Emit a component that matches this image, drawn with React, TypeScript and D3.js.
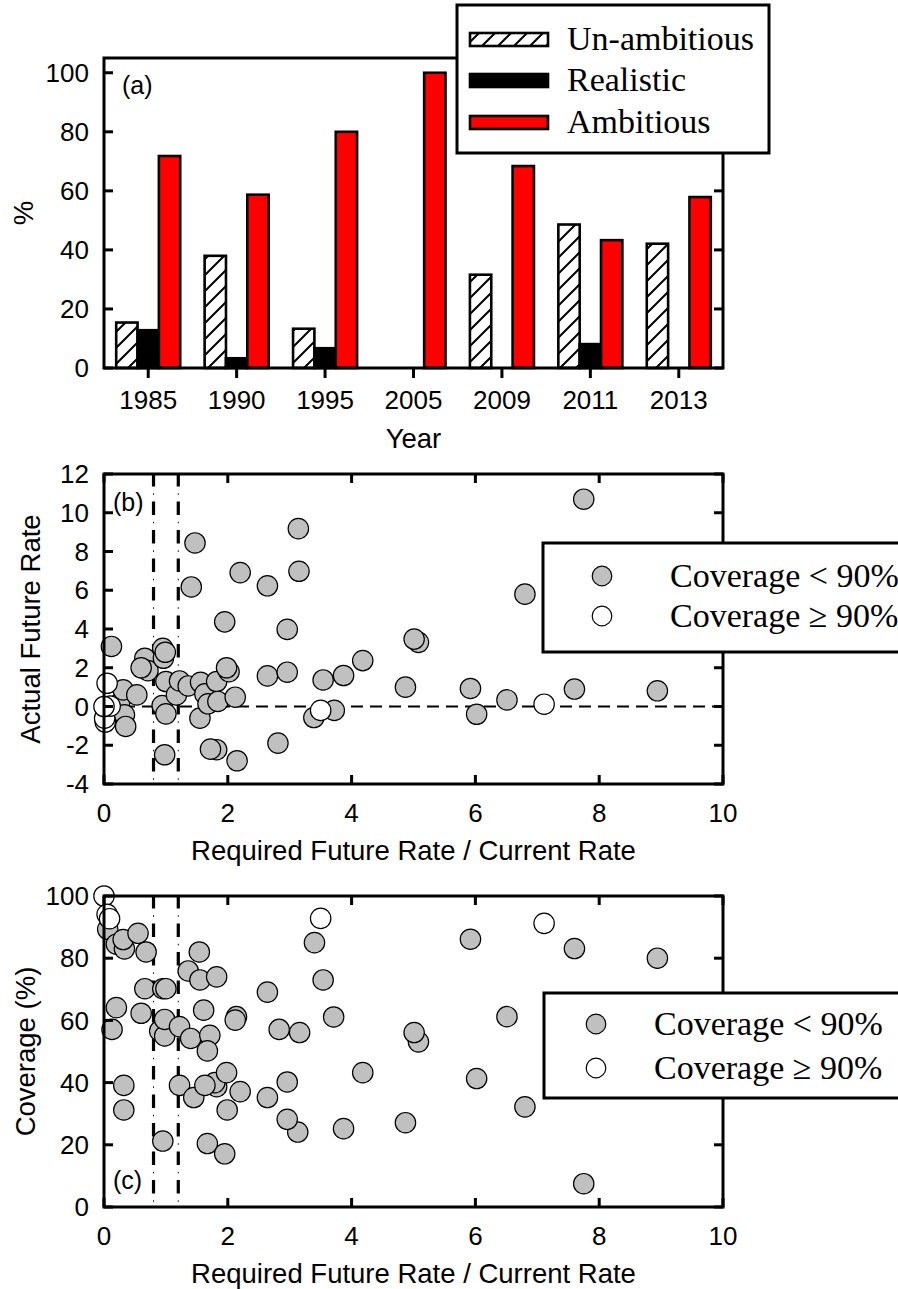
import * as d3 from 'd3';

// panel (a): share of targets per survey year (%)
const years = ['1985', '1990', '1995', '2005', '2009', '2011', '2013'];
const seriesNames = ['Un-ambitious', 'Realistic', 'Ambitious'];
const unAmbitious = [15.4, 38, 13.3, 0, 31.6, 48.6, 42.1];
const realistic = [12.8, 3.3, 6.7, 0, 0, 8.1, 0];
const ambitious = [71.8, 58.7, 80, 100, 68.4, 43.3, 57.9];

// panel (b): required/current rate vs actual future rate
const rateLow: [number, number][] = [
  [0.12, 3.1], [0.25, 0.15], [0.31, 0.86], [0.33, -0.43], [0.35, -1.03], [0.53, 0.6],
  [0.66, 2.49], [0.71, 1.85], [0.6, 2.0], [0.95, 3.0], [0.96, 2.49], [0.99, 2.8],
  [1.0, 1.29], [0.94, 0.05], [1.0, -0.38], [0.98, -2.49], [1.17, 0.6], [1.22, 1.32],
  [1.36, 1.06], [1.47, 8.44], [1.41, 6.17], [1.56, 1.25], [1.55, -0.6], [1.63, 0.65],
  [1.68, 0.14], [1.82, 1.29], [1.84, 0.26], [1.82, -2.23], [1.72, -2.2], [1.95, 4.37],
  [2.02, 1.8], [1.98, 2.0], [2.12, 0.48], [2.15, -2.8], [2.2, 6.91], [2.64, 6.23],
  [2.64, 1.58], [2.81, -1.89], [2.96, 3.98], [2.96, 1.77], [3.14, 9.18], [3.15, 6.98],
  [3.39, -0.57], [3.72, -0.2], [3.54, 1.37], [3.87, 1.6], [4.18, 2.37], [4.87, 1.0],
  [5.08, 3.31], [5.01, 3.48], [5.92, 0.93], [6.02, -0.4], [6.51, 0.34], [6.8, 5.8],
  [7.6, 0.9], [7.75, 10.7], [8.94, 0.81],
];
const rateHigh: [number, number][] = [
  [0.02, -0.8], [0.01, -0.6], [0.1, 0.02], [0.0, 0.0], [0.05, 1.2], [3.5, -0.2], [7.11, 0.12],
];

// panel (c): required/current rate vs coverage (%)
const coveragePoints: [number, number][] = [
  [0.06, 89.3], [0.2, 84.5], [0.33, 83], [0.31, 86], [0.55, 88], [0.68, 82],
  [0.2, 64.1], [0.13, 57.1], [0.32, 39.1], [0.32, 31.2], [0.6, 62.3], [0.66, 70.2],
  [0.95, 70.2], [1.0, 70.2], [0.9, 56.6], [0.98, 55], [0.98, 60.3], [1.22, 58],
  [0.95, 21.2], [1.22, 39.1], [1.45, 35.2], [1.36, 75.9], [1.54, 82], [1.55, 73],
  [1.82, 74], [1.4, 54.2], [1.61, 63.3], [1.71, 55.2], [1.67, 50.2], [1.82, 38.7],
  [1.79, 40], [1.63, 39.1], [1.98, 43.2], [1.99, 31.2], [2.2, 37.1], [1.67, 20.4],
  [1.95, 17.1], [2.14, 61.2], [2.12, 60.1], [2.64, 69.1], [2.64, 35.2], [2.83, 57.1],
  [3.16, 56.1], [2.96, 40.2], [3.13, 24.1], [2.96, 28.2], [3.4, 85], [3.54, 73],
  [3.71, 61.1], [3.87, 25.2], [4.18, 43.2], [4.87, 27.1], [5.08, 53.1], [5.01, 56.1],
  [5.92, 86.1], [6.02, 41.3], [6.51, 61.2], [6.8, 32.2], [7.6, 83.1], [8.94, 80],
  [7.75, 7.5],
  [0.0, 100], [0.05, 94.1], [0.09, 92.7], [3.5, 92.8], [7.11, 91.2],
];
const ratioBand = [0.8, 1.2];
const coverageCut = 90;

const W = 898;
const H = 1289;
const LEFT = 104;
const RIGHT = 723;
const SANS = '"Liberation Sans", Arial, Helvetica, sans-serif';
const SERIF = '"Liberation Serif", "Times New Roman", serif';
const GREY = '#c0c0c0';
const RED = '#ff0000';
const AXW = 3;
const TICK = 9;
const TICK_FONT = 26;
const TITLE_FONT = 27.5;

const xRatio = d3.scaleLinear().domain([0, 10]).range([LEFT, RIGHT]);

function Dot({ cx, cy, open }: { cx: number; cy: number; open: boolean }) {
  return <circle cx={cx} cy={cy} r={10.2} fill={open ? '#fff' : GREY} stroke="#000" strokeWidth={1.2} />;
}

function YTitle({ x, y, text }: { x: number; y: number; text: string }) {
  return (
    <text transform={`translate(${x},${y}) rotate(-90)`} dy="0.35em" textAnchor="middle"
      fontFamily={SANS} fontSize={TITLE_FONT}>{text}</text>
  );
}

function BarPanel() {
  const top = 58;
  const bottom = 368;
  const x0 = d3.scaleBand<string>().domain(years).range([LEFT, RIGHT]).paddingInner(0.276).paddingOuter(0.138);
  const x1 = d3.scaleBand<string>().domain(seriesNames).range([0, x0.bandwidth()]);
  const y = d3.scaleLinear().domain([0, 105]).range([bottom, top]);
  const values = [unAmbitious, realistic, ambitious];
  const fills = ['url(#hatch)', '#000', RED];

  const bars = years.flatMap((yr, i) =>
    seriesNames.map((s, k) => ({ yr, s, v: values[k][i], fill: fills[k] }))
  ).filter((d) => d.v > 0);

  const legendRows = [50, 91, 133];

  return (
    <g>
      {bars.map((d) => (
        <rect key={d.yr + d.s} x={(x0(d.yr) ?? 0) + (x1(d.s) ?? 0)} y={y(d.v)}
          width={x1.bandwidth()} height={y(0) - y(d.v)} fill={d.fill} stroke="#000" strokeWidth={2.6} />
      ))}
      <rect x={LEFT} y={top} width={RIGHT - LEFT} height={bottom - top} fill="none" stroke="#000" strokeWidth={AXW} />
      {y.ticks(5).map((t) => (
        <g key={t}>
          <line x1={LEFT} x2={LEFT + TICK} y1={y(t)} y2={y(t)} stroke="#000" strokeWidth={AXW} />
          <line x1={RIGHT} x2={RIGHT - TICK} y1={y(t)} y2={y(t)} stroke="#000" strokeWidth={AXW} />
          <text x={LEFT - 15} y={y(t)} dy="0.35em" textAnchor="end" fontFamily={SANS} fontSize={TICK_FONT}>{t}</text>
        </g>
      ))}
      {years.map((yr) => {
        const cx = (x0(yr) ?? 0) + x0.bandwidth() / 2;
        return (
          <g key={yr}>
            <line x1={cx} x2={cx} y1={bottom} y2={bottom + 10} stroke="#000" strokeWidth={AXW} />
            <text x={cx} y={409} textAnchor="middle" fontFamily={SANS} fontSize={TICK_FONT}>{yr}</text>
          </g>
        );
      })}
      <text x={(LEFT + RIGHT) / 2} y={448} textAnchor="middle" fontFamily={SANS} fontSize={TITLE_FONT}>Year</text>
      <YTitle x={23} y={(top + bottom) / 2} text="%" />
      <text x={122} y={94} fontFamily={SANS} fontSize={25}>(a)</text>

      <rect x={457} y={5} width={312} height={148} fill="#fff" stroke="#000" strokeWidth={AXW} />
      {seriesNames.map((s, k) => (
        <g key={s}>
          <rect x={470} y={legendRows[k] - 17} width={78} height={13} fill={fills[k]} stroke="#000" strokeWidth={2.6} />
          <text x={567} y={legendRows[k]} fontFamily={SERIF} fontSize={34}>{s}</text>
        </g>
      ))}
    </g>
  );
}

type RatioProps = {
  top: number;
  bottom: number;
  domain: [number, number];
  tickCount: number;
  points: [number, number, boolean][];
  title: string;
  titleX: number;
  tag: string;
  tagY: number;
  xTitleY: number;
  zeroLine: boolean;
  legend: { x: number; y: number; h: number; markX: number; textX: number; rows: number[] };
};

function RatioPanel(p: RatioProps) {
  const y = d3.scaleLinear().domain(p.domain).range([p.bottom, p.top]);
  const xt = xRatio.ticks(5);
  const yt = y.ticks(p.tickCount);
  const ordered = [...p.points.filter((d) => !d[2]), ...p.points.filter((d) => d[2])];
  return (
    <g>
      {ratioBand.map((v) => (
        <g key={v}>
          {/* dash-dot guide: thick dashes with a thin dot in each gap */}
          <line x1={xRatio(v)} x2={xRatio(v)} y1={p.top} y2={p.bottom} stroke="#000" strokeWidth={3.2}
            strokeDasharray="13.5,15" strokeDashoffset={1} />
          <line x1={xRatio(v)} x2={xRatio(v)} y1={p.top} y2={p.bottom} stroke="#000" strokeWidth={1}
            strokeDasharray="1.5,27" strokeDashoffset={-19.3} />
        </g>
      ))}
      {p.zeroLine && (
        <line x1={LEFT} x2={RIGHT} y1={y(0)} y2={y(0)} stroke="#000" strokeWidth={2.2} strokeDasharray="12,7" />
      )}
      {ordered.map((d, i) => (
        <Dot key={i} cx={xRatio(d[0])} cy={y(d[1])} open={d[2]} />
      ))}
      <rect x={LEFT} y={p.top} width={RIGHT - LEFT} height={p.bottom - p.top} fill="none" stroke="#000" strokeWidth={AXW} />
      {yt.map((t) => (
        <g key={t}>
          <line x1={LEFT} x2={LEFT + TICK} y1={y(t)} y2={y(t)} stroke="#000" strokeWidth={AXW} />
          <line x1={RIGHT} x2={RIGHT - TICK} y1={y(t)} y2={y(t)} stroke="#000" strokeWidth={AXW} />
          <text x={LEFT - 15} y={y(t)} dy="0.35em" textAnchor="end" fontFamily={SANS} fontSize={TICK_FONT}>{String(t)}</text>
        </g>
      ))}
      {xt.map((t) => (
        <g key={t}>
          <line x1={xRatio(t)} x2={xRatio(t)} y1={p.top} y2={p.top + TICK} stroke="#000" strokeWidth={AXW} />
          <line x1={xRatio(t)} x2={xRatio(t)} y1={p.bottom} y2={p.bottom - TICK} stroke="#000" strokeWidth={AXW} />
          <text x={xRatio(t)} y={p.bottom + 38} textAnchor="middle" fontFamily={SANS} fontSize={TICK_FONT}>{String(t)}</text>
        </g>
      ))}
      <text x={(LEFT + RIGHT) / 2} y={p.xTitleY} textAnchor="middle" fontFamily={SANS} fontSize={TITLE_FONT}>
        Required Future Rate / Current Rate
      </text>
      <YTitle x={p.titleX} y={(p.top + p.bottom) / 2} text={p.title} />
      <text x={113} y={p.tagY} fontFamily={SANS} fontSize={25}>{p.tag}</text>

      <rect x={p.legend.x} y={p.legend.y} width={W + 40 - p.legend.x} height={p.legend.h}
        fill="#fff" stroke="#000" strokeWidth={AXW} />
      {['Coverage < 90%', 'Coverage \u2265 90%'].map((s, k) => (
        <g key={s}>
          <circle cx={p.legend.markX} cy={p.legend.rows[k]} r={9.8} fill={k ? '#fff' : GREY} stroke="#000" strokeWidth={1.2} />
          <text x={p.legend.textX} y={p.legend.rows[k] + 11} fontFamily={SERIF} fontSize={34}>{s}</text>
        </g>
      ))}
    </g>
  );
}

export default function App() {
  const ratePts: [number, number, boolean][] = [
    ...rateLow.map((d) => [d[0], d[1], false] as [number, number, boolean]),
    ...rateHigh.map((d) => [d[0], d[1], true] as [number, number, boolean]),
  ];
  const covPts: [number, number, boolean][] = coveragePoints.map(
    (d) => [d[0], d[1], d[1] >= coverageCut] as [number, number, boolean]
  );
  return (
    <svg width={W} height={H} viewBox={`0 0 ${W} ${H}`}
      style={{ position: 'absolute', left: 0, top: 0, background: '#fff' }}>
      <defs>
        <pattern id="hatch" patternUnits="userSpaceOnUse" width={16} height={16}>
          <rect width={16} height={16} fill="#fff" />
          <path d="M-4,4 L4,-4 M0,16 L16,0 M12,20 L20,12" stroke="#000" strokeWidth={2} />
        </pattern>
      </defs>
      <BarPanel />
      <RatioPanel top={474} bottom={784} domain={[-4, 12]} tickCount={8} points={ratePts}
        title="Actual Future Rate" titleX={30} tag="(b)" tagY={511} xTitleY={860} zeroLine
        legend={{ x: 543, y: 543, h: 109, markX: 602, textX: 670, rows: [576, 616] }} />
      <RatioPanel top={896} bottom={1207} domain={[0, 100]} tickCount={5} points={covPts}
        title="Coverage (%)" titleX={25} tag="(c)" tagY={1189} xTitleY={1283} zeroLine={false}
        legend={{ x: 544, y: 993, h: 105, markX: 596, textX: 654, rows: [1024, 1068] }} />
    </svg>
  );
}
